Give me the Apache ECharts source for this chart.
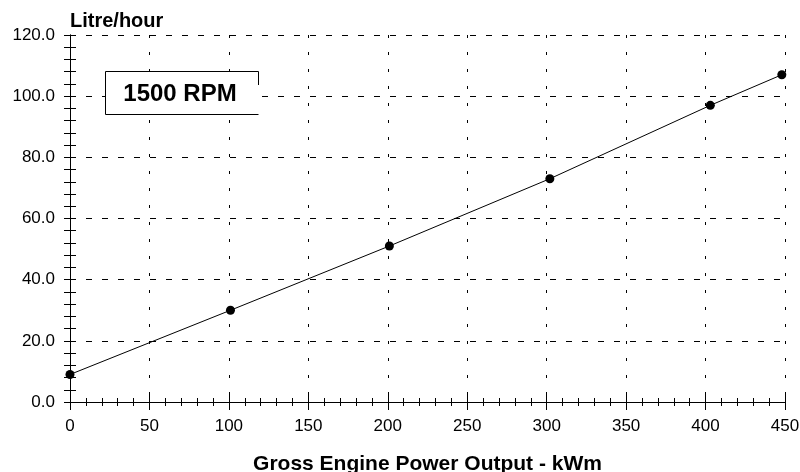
<!DOCTYPE html>
<html>
<head>
<meta charset="utf-8">
<script src="https://cdn.jsdelivr.net/npm/echarts@6/dist/echarts.min.js"></script>
<style>
  html, body { margin: 0; padding: 0; background: #fff; }
  #chart { width: 800px; height: 472px; }
</style>
</head>
<body>
<div id="chart"></div>
<script>
// power output (kWm) and fuel consumption (litre/hour)
var power = [0, 101, 201, 302, 403, 448];
var fuel = [9.0, 30.0, 51.0, 73.0, 97.0, 107.0];

var font = "'Liberation Sans', Arial, Helvetica, sans-serif";

var chart = echarts.init(document.getElementById("chart"));

var dashX = { type: [3, 14], color: "#000", width: 1 };
var dashY = { type: [6, 10], color: "#000", width: 1 };

chart.setOption({
  animation: false,
  backgroundColor: "#fff",
  grid: { left: 70, right: 15, top: 35, bottom: 70, containLabel: false, outerBoundsMode: "none" },
  xAxis: [
    {
      type: "value",
      min: 0,
      max: 450,
      interval: 50,
      name: "Gross Engine Power Output - kWm",
      nameLocation: "middle",
      nameGap: 52,
      nameTextStyle: { fontFamily: font, fontWeight: "bold", fontSize: 21, color: "#000" },
      axisLine: { lineStyle: { color: "#000", width: 1 } },
      axisTick: { inside: true, length: 8, lineStyle: { color: "#000" } },
      minorTick: { show: true, splitNumber: 5, length: 4, lineStyle: { color: "#000" } },
      axisLabel: { fontFamily: font, fontSize: 17, color: "#000", margin: 16 },
      splitLine: { show: true, lineStyle: dashX }
    },
    {
      type: "value",
      position: "top",
      min: 0,
      max: 450,
      interval: 50,
      axisLine: { lineStyle: { color: "#000", width: 1 } },
      axisTick: { inside: true, length: 8, lineStyle: { color: "#000" } },
      minorTick: { show: true, splitNumber: 5, length: 4, lineStyle: { color: "#000" } },
      axisLabel: { show: false },
      splitLine: { show: false }
    }
  ],
  yAxis: [
    {
      type: "value",
      min: 0,
      max: 120,
      interval: 20,
      name: "Litre/hour",
      nameLocation: "end",
      nameGap: 4,
      nameTextStyle: { fontFamily: font, fontWeight: "bold", fontSize: 20, color: "#000", align: "left" },
      axisLine: { lineStyle: { color: "#000", width: 1 } },
      axisTick: { inside: true, length: 6, lineStyle: { color: "#000" } },
      minorTick: { show: true, splitNumber: 5, length: 6, lineStyle: { color: "#000" } },
      axisLabel: {
        fontFamily: font, fontSize: 17, color: "#000", margin: 15,
        formatter: function (v) { return v.toFixed(1); }
      },
      splitLine: { show: true, lineStyle: dashY }
    },
    {
      type: "value",
      position: "right",
      min: 0,
      max: 120,
      interval: 20,
      axisLine: { show: true, lineStyle: { color: "#000", width: 1 } },
      axisTick: { inside: true, length: 6, lineStyle: { color: "#000" } },
      minorTick: { show: true, splitNumber: 5, length: 6, lineStyle: { color: "#000" } },
      axisLabel: { show: false },
      splitLine: { show: false }
    }
  ],
  series: [
    {
      type: "line",
      data: power.map(function (p, i) { return [p, fuel[i]]; }),
      symbol: "circle",
      symbolSize: 9,
      lineStyle: { color: "#000", width: 1 },
      itemStyle: { color: "#000" },
      z: 5
    }
  ],
  graphic: [
    {
      type: "rect",
      shape: { x: 105, y: 71, width: 153, height: 43 },
      style: { fill: "#fff", stroke: null },
      z: 10
    },
    {
      type: "polyline",
      shape: { points: [[258.5, 85], [258.5, 71.5], [105.5, 71.5], [105.5, 114.5], [258.5, 114.5]] },
      style: { stroke: "#000", lineWidth: 1, fill: null },
      z: 11
    },
    {
      type: "text",
      x: 180,
      y: 94,
      style: {
        text: "1500 RPM",
        font: "bold 24px " + font,
        fill: "#000",
        align: "center",
        verticalAlign: "middle"
      },
      z: 12
    }
  ]
});
</script>
</body>
</html>
